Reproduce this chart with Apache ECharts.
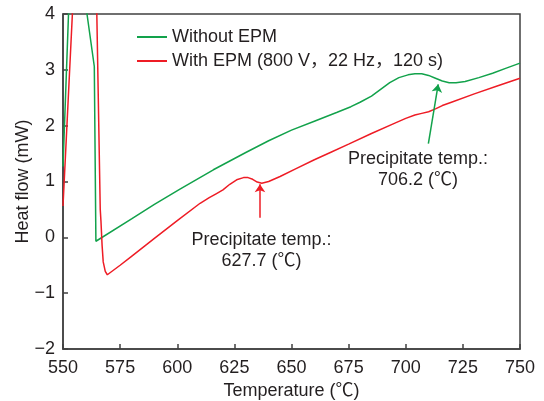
<!DOCTYPE html>
<html>
<head>
<meta charset="utf-8">
<script src="https://cdn.jsdelivr.net/npm/echarts@6/dist/echarts.min.js"></script>
<style>
  html, body { margin: 0; padding: 0; background: #fff; }
  #chart { width: 544px; height: 401px; }
</style>
</head>
<body>
<div id="chart"></div>
<script>
// DSC curves, temperature (C) vs heat flow (mW). Values above 4 leave the frame (clipped).
var greenTemp = [550, 553.3, 557.1, 560.5, 563.7, 564.4, 580, 590, 601, 615.8, 630, 640, 650, 660, 670, 676, 680, 685, 689, 693, 697, 701, 704, 707, 710, 713, 716, 719, 722, 726, 732, 738, 744, 750];
var greenFlow = [1.27, 5, 5, 4.0, 3.06, -0.07, 0.33, 0.59, 0.86, 1.21, 1.52, 1.73, 1.92, 2.08, 2.24, 2.34, 2.42, 2.53, 2.65, 2.77, 2.86, 2.91, 2.93, 2.93, 2.90, 2.85, 2.80, 2.77, 2.77, 2.79, 2.86, 2.94, 3.03, 3.12];

var redTemp = [550, 555.3, 564.4, 564.8, 566.3, 566.6, 567.1, 567.6, 568.5, 569.4, 575, 580, 590, 600, 610, 614, 617, 620, 623, 626, 629, 631, 633, 635, 637, 640, 645, 652, 660, 667, 675, 685, 695, 700, 704, 707, 710, 713, 716, 720, 730, 740, 750];
var redFlow = [0.56, 5, 5, 4.0, 0.5, 0.3, -0.14, -0.44, -0.61, -0.67, -0.50, -0.34, -0.02, 0.30, 0.61, 0.71, 0.78, 0.85, 0.95, 1.03, 1.07, 1.07, 1.04, 0.99, 0.97, 1.00, 1.09, 1.23, 1.39, 1.52, 1.67, 1.86, 2.04, 2.13, 2.19, 2.22, 2.25, 2.30, 2.36, 2.42, 2.57, 2.71, 2.85];

var seriesNames = ['Without EPM', 'With EPM (800 V，22 Hz，120 s)'];
var xTicks = [550, 575, 600, 625, 650, 675, 700, 725, 750];
var yTicks = [-2, -1, 0, 1, 2, 3, 4];

// annotations: arrow [tail, tip] and note centre, in data units
var greenArrow = [[709.9, 1.68], [714.2, 2.74]];
var greenNote = [705.4, 1.22];
var greenNoteText = 'Precipitate temp.:\n706.2 (℃)';
var redArrow = [[636.2, 0.35], [636.2, 0.95]];
var redNote = [636.9, -0.23];
var redNoteText = 'Precipitate temp.:\n627.7 (℃)';

var GREEN = '#12a24b';
var RED = '#ee1c25';
var INK = '#231f20';
var AXIS = '#404040';
var FONT = '"Liberation Sans", Arial, "Noto Sans CJK SC", sans-serif';

function pairs(xs, ys) {
  var out = [];
  for (var i = 0; i < xs.length; i++) out.push([xs[i], ys[i]]);
  return out;
}

function arrowLine(arrow, color) {
  return {
    silent: true,
    symbol: ['none', 'arrow'],
    symbolSize: 8,
    label: { show: false },
    lineStyle: { color: color, width: 1.5, type: 'solid' },
    emphasis: { disabled: true },
    data: [[{ coord: arrow[0] }, { coord: arrow[1] }]]
  };
}

function note(pos, text) {
  return {
    silent: true,
    symbol: 'circle',
    symbolSize: 0,
    label: {
      show: true, position: 'inside', formatter: text,
      color: INK, fontSize: 18, lineHeight: 21, fontFamily: FONT, align: 'center'
    },
    data: [{ coord: pos }]
  };
}

var chart = echarts.init(document.getElementById('chart'));
chart.setOption({
  animation: false,
  backgroundColor: '#fff',
  textStyle: { fontFamily: FONT },
  grid: {
    left: 63, right: 24, top: 14, bottom: 52,
    outerBoundsMode: 'none', containLabel: false,
    show: true, borderColor: AXIS, borderWidth: 1.5
  },
  legend: {
    data: seriesNames,
    orient: 'vertical',
    left: 131,
    top: 23,
    itemWidth: 30,
    itemHeight: 14,
    itemGap: 6,
    itemStyle: { opacity: 0 },
    textStyle: { color: INK, fontSize: 18, fontFamily: FONT }
  },
  xAxis: {
    type: 'value',
    min: xTicks[0], max: xTicks[xTicks.length - 1], interval: 25,
    name: 'Temperature (℃)', nameLocation: 'middle', nameGap: 33, nameMoveOverlap: false,
    nameTextStyle: { color: INK, fontSize: 18, fontFamily: FONT },
    axisLine: { onZero: false, lineStyle: { color: AXIS, width: 1.5 } },
    axisTick: { inside: true, length: 5, lineStyle: { color: AXIS, width: 1.5 } },
    axisLabel: { color: INK, fontSize: 18, margin: 10 },
    splitLine: { show: false }
  },
  yAxis: {
    type: 'value',
    min: yTicks[0], max: yTicks[yTicks.length - 1], interval: 1,
    name: 'Heat flow (mW)', nameLocation: 'middle', nameGap: 31, nameMoveOverlap: false,
    nameTextStyle: { color: INK, fontSize: 18, fontFamily: FONT },
    axisLine: { onZero: false, lineStyle: { color: AXIS, width: 1.5 } },
    axisTick: { inside: true, length: 5, lineStyle: { color: AXIS, width: 1.5 } },
    axisLabel: {
      color: INK, fontSize: 18, margin: 8,
      formatter: function (v) { return String(v).replace('-', '\u2212'); }
    },
    splitLine: { show: false }
  },
  series: [
    {
      name: seriesNames[0], type: 'line', symbol: 'none', clip: true,
      lineStyle: { color: GREEN, width: 1.5 }, itemStyle: { color: GREEN },
      data: pairs(greenTemp, greenFlow),
      markLine: arrowLine(greenArrow, GREEN),
      markPoint: note(greenNote, greenNoteText)
    },
    {
      name: seriesNames[1], type: 'line', symbol: 'none', clip: true,
      lineStyle: { color: RED, width: 1.5 }, itemStyle: { color: RED },
      data: pairs(redTemp, redFlow),
      markLine: arrowLine(redArrow, RED),
      markPoint: note(redNote, redNoteText)
    }
  ]
});
</script>
</body>
</html>
